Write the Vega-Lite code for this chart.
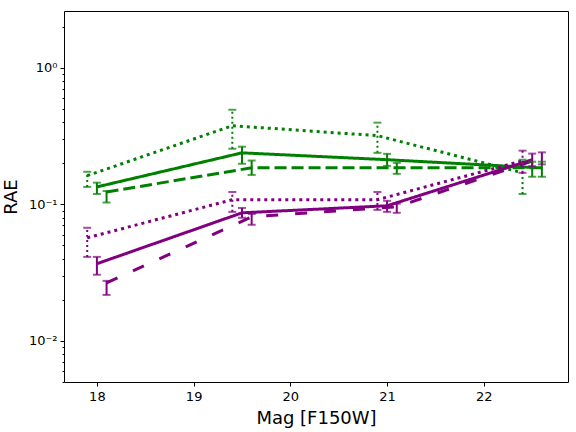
{
  "$schema": "https://vega.github.io/schema/vega-lite/v6.json",
  "width": 504,
  "height": 371,
  "autosize": "none",
  "padding": {"left": 64, "top": 11, "right": 8, "bottom": 50},
  "background": "white",
  "config": {
    "view": {"stroke": "black", "strokeWidth": 1},
    "font": "DejaVu Sans",
    "axis": {
      "domain": false, "grid": false, "tickColor": "black", "tickSize": 4,
      "labelColor": "black", "labelFont": "DejaVu Sans", "labelFontSize": 13,
      "titleFont": "DejaVu Sans", "titleFontSize": 18, "titleFontWeight": "normal", "titleColor": "black"
    }
  },
  "data": {"values": [
    {"s": "gd", "c": "green", "st": "dotted", "x": 17.9, "y": 0.162, "lo": 0.134, "hi": 0.173},
    {"s": "gd", "c": "green", "st": "dotted", "x": 19.4, "y": 0.376, "lo": 0.255, "hi": 0.492},
    {"s": "gd", "c": "green", "st": "dotted", "x": 20.9, "y": 0.318, "lo": 0.238, "hi": 0.396},
    {"s": "gd", "c": "green", "st": "dotted", "x": 22.4, "y": 0.17, "lo": 0.119, "hi": 0.212},
    {"s": "gs", "c": "green", "st": "solid", "x": 18.0, "y": 0.134, "lo": 0.119, "hi": 0.144},
    {"s": "gs", "c": "green", "st": "solid", "x": 19.5, "y": 0.238, "lo": 0.198, "hi": 0.264},
    {"s": "gs", "c": "green", "st": "solid", "x": 21.0, "y": 0.212, "lo": 0.191, "hi": 0.234},
    {"s": "gs", "c": "green", "st": "solid", "x": 22.5, "y": 0.186, "lo": 0.159, "hi": 0.205},
    {"s": "gds", "c": "green", "st": "dashed", "x": 18.1, "y": 0.123, "lo": 0.103, "hi": 0.125},
    {"s": "gds", "c": "green", "st": "dashed", "x": 19.6, "y": 0.185, "lo": 0.164, "hi": 0.209},
    {"s": "gds", "c": "green", "st": "dashed", "x": 21.1, "y": 0.185, "lo": 0.167, "hi": 0.201},
    {"s": "gds", "c": "green", "st": "dashed", "x": 22.6, "y": 0.185, "lo": 0.159, "hi": 0.205},
    {"s": "pd", "c": "purple", "st": "dotted", "x": 17.9, "y": 0.0568, "lo": 0.0412, "hi": 0.0673},
    {"s": "pd", "c": "purple", "st": "dotted", "x": 19.4, "y": 0.108, "lo": 0.088, "hi": 0.123},
    {"s": "pd", "c": "purple", "st": "dotted", "x": 20.9, "y": 0.108, "lo": 0.091, "hi": 0.123},
    {"s": "pd", "c": "purple", "st": "dotted", "x": 22.4, "y": 0.208, "lo": 0.170, "hi": 0.247},
    {"s": "ps", "c": "purple", "st": "solid", "x": 18.0, "y": 0.0367, "lo": 0.0305, "hi": 0.0412},
    {"s": "ps", "c": "purple", "st": "solid", "x": 19.5, "y": 0.0866, "lo": 0.0797, "hi": 0.094},
    {"s": "ps", "c": "purple", "st": "solid", "x": 21.0, "y": 0.0975, "lo": 0.088, "hi": 0.106},
    {"s": "ps", "c": "purple", "st": "solid", "x": 22.5, "y": 0.212, "lo": 0.19, "hi": 0.235},
    {"s": "pds", "c": "purple", "st": "longdash", "x": 18.1, "y": 0.0266, "lo": 0.0217, "hi": 0.0275},
    {"s": "pds", "c": "purple", "st": "longdash", "x": 19.6, "y": 0.081, "lo": 0.0708, "hi": 0.085},
    {"s": "pds", "c": "purple", "st": "longdash", "x": 21.1, "y": 0.0958, "lo": 0.0866, "hi": 0.101},
    {"s": "pds", "c": "purple", "st": "longdash", "x": 22.6, "y": 0.219, "lo": 0.196, "hi": 0.24}
  ]},
  "resolve": {"axis": {"y": "independent"}},
  "layer": [
    {
      "mark": {"type": "line", "strokeWidth": 3, "strokeCap": "butt"},
      "encoding": {
        "x": {"field": "x", "type": "quantitative",
          "scale": {"domain": [17.66, 22.87], "nice": false, "zero": false},
          "axis": {"values": [18, 19, 20, 21, 22], "format": "d", "title": "Mag [F150W]", "labelPadding": 4, "titlePadding": 6}},
        "y": {"field": "y", "type": "quantitative",
          "scale": {"type": "log", "domain": [0.005, 2.6], "nice": false},
          "axis": {"values": [0.01, 0.1, 1], "title": "RAE", "tickSize": 4, "labelPadding": 3, "titlePadding": 8,
            "labelExpr": "datum.value > 0.5 ? '10⁰' : datum.value > 0.05 ? '10⁻¹' : '10⁻²'"}},
        "color": {"field": "c", "type": "nominal", "legend": null,
          "scale": {"domain": ["green", "purple"], "range": ["#008000", "#800080"]}},
        "strokeDash": {"field": "st", "type": "nominal", "legend": null,
          "scale": {"domain": ["solid", "dashed", "dotted", "longdash"], "range": [[1, 0], [12, 5], [3, 4], [12, 17]]}},
        "detail": {"field": "s"}
      }
    },
    {
      "transform": [{"filter": "datum.st != 'dotted'"}],
      "mark": {"type": "rule", "strokeWidth": 2},
      "encoding": {
        "x": {"field": "x", "type": "quantitative"},
        "y": {"field": "lo", "type": "quantitative",
          "axis": {"values": [0.005, 0.006, 0.007, 0.008, 0.009, 0.02, 0.03, 0.04, 0.05, 0.06, 0.07, 0.08, 0.09, 0.2, 0.3, 0.4, 0.5, 0.6, 0.7, 0.8, 0.9, 2], "labels": false, "tickSize": 2, "title": null, "orient": "left"}},
        "y2": {"field": "hi"},
        "color": {"field": "c", "type": "nominal", "legend": null}
      }
    },
    {
      "transform": [{"filter": "datum.st == 'dotted'"}],
      "mark": {"type": "rule", "strokeWidth": 2, "strokeDash": [2, 3]},
      "encoding": {
        "x": {"field": "x", "type": "quantitative"},
        "y": {"field": "lo", "type": "quantitative", "axis": null},
        "y2": {"field": "hi"},
        "color": {"field": "c", "type": "nominal", "legend": null}
      }
    },
    {
      "mark": {"type": "tick", "orient": "horizontal", "size": 8, "thickness": 2},
      "encoding": {
        "x": {"field": "x", "type": "quantitative"},
        "y": {"field": "lo", "type": "quantitative", "axis": null},
        "color": {"field": "c", "type": "nominal", "legend": null}
      }
    },
    {
      "mark": {"type": "tick", "orient": "horizontal", "size": 8, "thickness": 2},
      "encoding": {
        "x": {"field": "x", "type": "quantitative"},
        "y": {"field": "hi", "type": "quantitative", "axis": null},
        "color": {"field": "c", "type": "nominal", "legend": null}
      }
    }
  ]
}
